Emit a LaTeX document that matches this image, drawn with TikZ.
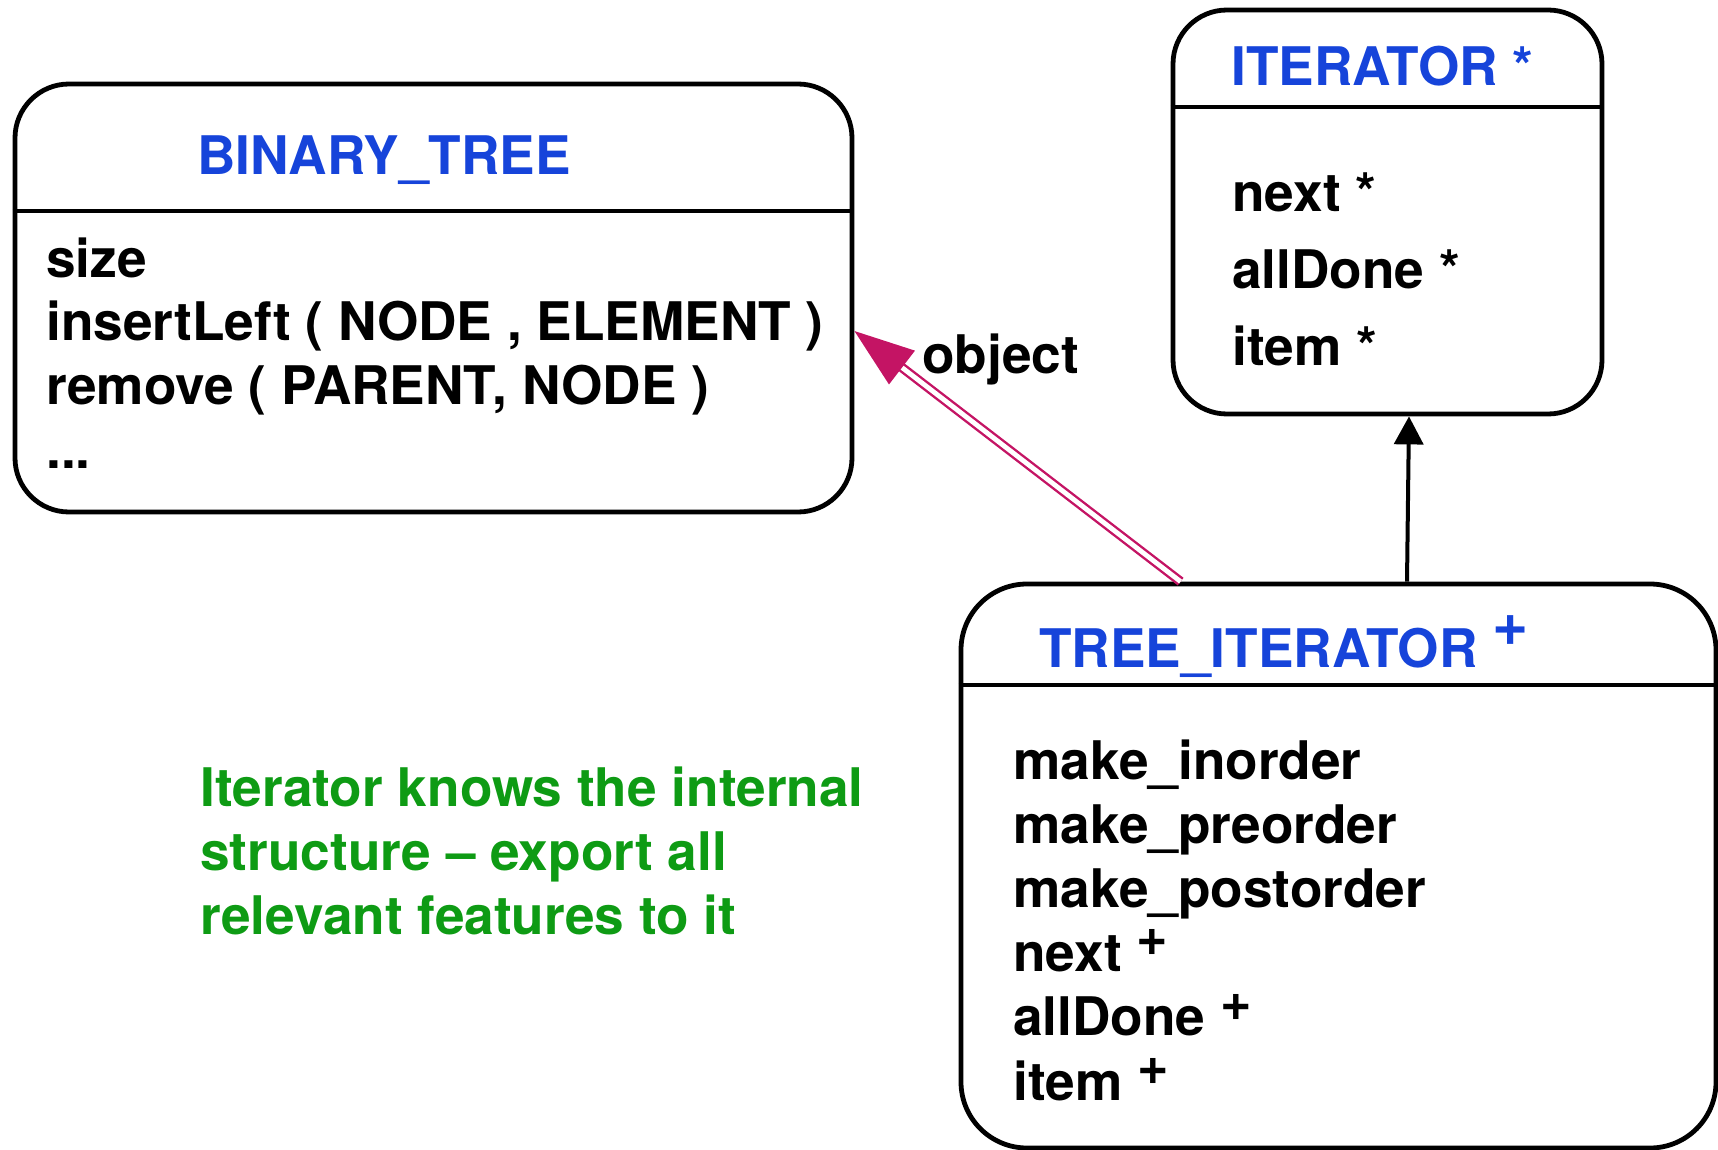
\documentclass[tikz,border=0pt]{standalone}
\usepackage{fontspec}
\setmainfont{TeX Gyre Heros}
\usetikzlibrary{arrows.meta}

\definecolor{titleblue}{RGB}{22,68,218}
\definecolor{notegreen}{RGB}{14,155,20}
\definecolor{clientpink}{RGB}{196,20,100}

% raised "+" after a feature or class name
\newcommand\plusmark[2][7.9pt]{\smash{\raisebox{#1}{\fontsize{#2}{#2}\selectfont\bfseries +}}}

\begin{document}
\begin{tikzpicture}[x=0.5pt,y=-0.5pt,
    classbox/.style={draw,line width=2.4pt,rounded corners=27pt,inner sep=0pt},
    classname/.style={anchor=base west,inner sep=0pt,text=titleblue,font=\fontsize{26.6}{32}\selectfont\bfseries},
    features/.style={anchor=base west,inner sep=0pt,align=left,font=\fontsize{26.6}{31.8}\selectfont\bfseries},
    note/.style={features,text=notegreen},
    inherit/.style={-{Triangle[length=14pt,width=14.5pt]},line width=2pt},
    client/.style={draw=clientpink,double=white,line width=1.2pt,double distance=2.4pt,
                   -{Triangle[length=30pt,width=21pt,fill=clientpink]}}
]
\path[use as bounding box] (0,0) rectangle (1718,1150);

% classes
\node[classbox,minimum width=418.5pt,minimum height=214pt] (bt) at (433.5,298) {};
\node[classbox,minimum width=214.5pt,minimum height=202pt] (it) at (1387.5,212) {};
\node[classbox,rounded corners=33pt,minimum width=377.5pt,minimum height=282pt] (ti) at (1338.5,866) {};

\coordinate (btsep) at (0,211);
\coordinate (itsep) at (0,107);
\coordinate (tisep) at (0,685);
\draw[line width=2.4pt] (bt.west |- btsep) -- (bt.east |- btsep);
\draw[line width=2.4pt] (it.west |- itsep) -- (it.east |- itsep);
\draw[line width=2.4pt] (ti.west |- tisep) -- (ti.east |- tisep);

\node[classname] (btname) at (197,175) {BINARY\_TREE};
\node[classname] (itname) at (1231,86)  {ITERATOR *};
\node[classname] (tiname) at (1039,667) {TREE\_ITERATOR \plusmark[10.8pt]{31}};

% multi-line texts sit on their last baseline
\node[features] (btfeat) at (46,468) {size\\insertLeft ( NODE , ELEMENT )\\remove ( PARENT, NODE )\\...};
\node[features,font=\fontsize{26.6}{38.3}\selectfont\bfseries] (itfeat) at (1232,365) {next *\\allDone *\\item *};
\node[features,font=\fontsize{26.6}{32.1}\selectfont\bfseries] (tifeat) at (1013,1100)
    {make\_inorder\\make\_preorder\\make\_postorder\\next \plusmark{27}\\allDone \plusmark{27}\\item \plusmark{27}};

\node[note] (remark) at (200,934) {Iterator knows the internal\\structure -- export all\\relevant features to it};
\node[features] (objlabel) at (922,373) {object};

% relations
\coordinate (objtail) at ([xshift=111pt]ti.north west);
\coordinate (objhead) at ([yshift=-16.5pt]bt.east);
\draw[client] (objtail) -- (objhead);

\coordinate (inhtail) at ([xshift=34.25pt]ti.north);
\coordinate (inhhead) at ([xshift=10.75pt]it.south);
\draw[inherit] (inhtail) -- (inhhead);
\end{tikzpicture}
\end{document}
